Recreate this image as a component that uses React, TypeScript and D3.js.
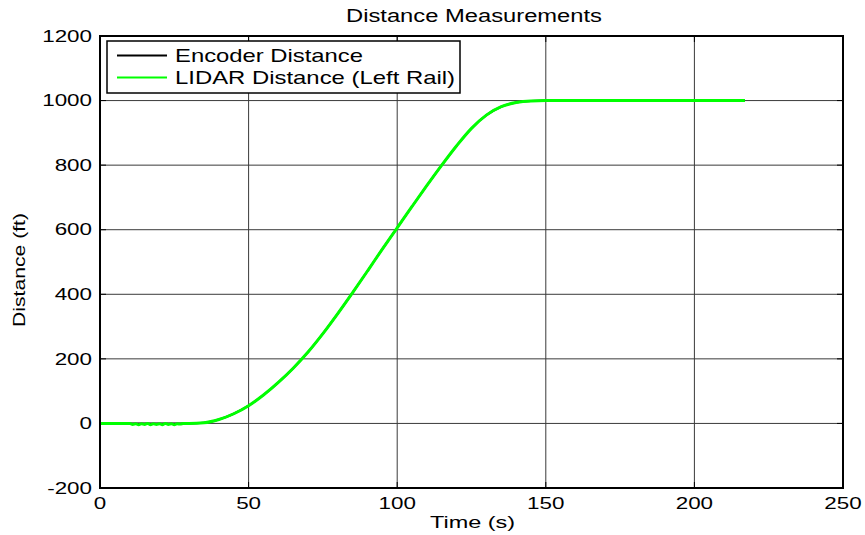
import React from "react";
import * as d3 from "d3";

// Time stamps (s) and encoder distance (ft)
const timeS = [0, 5, 10, 15, 20, 25, 30, 35, 40, 45, 50, 55, 60, 65, 70, 75, 80, 85, 90, 95, 100, 105, 110, 115, 120, 125, 130, 135, 140, 145, 150, 155, 160, 170, 180, 190, 200, 210, 217];
const encoderFt = [0, 0, 0, 0, 0, 0, 0, 2, 12, 30, 55, 88, 127, 171, 221, 278, 340, 405, 472, 540, 606, 672, 737, 800, 860, 914, 955, 981, 994, 999, 1000, 1000, 1000, 1000, 1000, 1000, 1000, 1000, 1000];

// LIDAR samples differ slightly from the encoder during the slow start
const lidarNoiseTime = [10, 11, 12, 13, 14, 15, 16, 17, 18, 19, 20, 21, 22, 23, 24, 25, 26, 27, 28];
const lidarNoiseFt = [0, -3, -1, -4, -1, -3, 0, -4, -1, -3, -1, -4, 0, -3, -1, -4, -1, -2, 0];

const xTicks = [0, 50, 100, 150, 200, 250];
const yTicks = [-200, 0, 200, 400, 600, 800, 1000, 1200];

const W = 865;
const H = 535;
const left = 100;
const right = 843;
const top = 36;
const bottom = 488;
const FONT = "'Liberation Sans', Arial, Helvetica, sans-serif";

export default function App() {
  const x = d3.scaleLinear().domain([0, 250]).range([left, right]);
  const y = d3.scaleLinear().domain([-200, 1200]).range([bottom, top]);

  const encoder = timeS.map((t, i) => [t, encoderFt[i]] as [number, number]);
  const lidar: [number, number][] = [
    ...encoder.filter((d) => d[0] < 10),
    ...lidarNoiseTime.map((t, i) => [t, lidarNoiseFt[i]] as [number, number]),
    ...encoder.filter((d) => d[0] > 28),
  ];

  const line = d3
    .line<[number, number]>()
    .x((d) => x(d[0]))
    .y((d) => y(d[1]))
    .curve(d3.curveMonotoneX);

  const tickLen = 6;

  return (
    <svg
      width={W}
      height={H}
      style={{ position: "absolute", left: 0, top: 0, background: "#fff" }}
      fontFamily={FONT}
    >
      <rect x={0} y={0} width={W} height={H} fill="#fff" />

      {/* grid */}
      {xTicks.slice(1, -1).map((t) => (
        <line key={"gx" + t} x1={x(t)} x2={x(t)} y1={top} y2={bottom} stroke="#3a3a3a" strokeWidth={1} />
      ))}
      {yTicks.slice(1, -1).map((t) => (
        <line key={"gy" + t} x1={left} x2={right} y1={y(t)} y2={y(t)} stroke="#3a3a3a" strokeWidth={1} />
      ))}

      {/* tick marks on all sides */}
      {xTicks.map((t) => (
        <g key={"tx" + t} stroke="#000" strokeWidth={1}>
          <line x1={x(t)} x2={x(t)} y1={bottom} y2={bottom - tickLen} />
          <line x1={x(t)} x2={x(t)} y1={top} y2={top + tickLen} />
        </g>
      ))}
      {yTicks.map((t) => (
        <g key={"ty" + t} stroke="#000" strokeWidth={1}>
          <line x1={left} x2={left + tickLen} y1={y(t)} y2={y(t)} />
          <line x1={right} x2={right - tickLen} y1={y(t)} y2={y(t)} />
        </g>
      ))}

      {/* data */}
      <path d={line(encoder) ?? ""} fill="none" stroke="#000" strokeWidth={2} />
      <path d={line(lidar) ?? ""} fill="none" stroke="#00ff00" strokeWidth={3} />

      {/* axes box */}
      <rect x={left} y={top} width={right - left} height={bottom - top} fill="none" stroke="#000" strokeWidth={2} />

      {/* tick labels */}
      {xTicks.map((t) => (
        <text
          key={"lx" + t}
          transform={`translate(${x(t)},508.5) scale(1.4,1)`}
          textAnchor="middle"
          fontSize={16}
          fill="#000"
        >
          {t}
        </text>
      ))}
      {yTicks.map((t) => (
        <text
          key={"ly" + t}
          transform={`translate(92,${y(t) + 5.7}) scale(1.4,1)`}
          textAnchor="end"
          fontSize={16}
          fill="#000"
        >
          {t}
        </text>
      ))}

      {/* titles */}
      <text x={474} y={22} textAnchor="middle" fontSize={17.5} textLength={256} lengthAdjust="spacingAndGlyphs" fill="#000">
        Distance Measurements
      </text>
      <text x={472.5} y={528} textAnchor="middle" fontSize={17} textLength={85} lengthAdjust="spacingAndGlyphs" fill="#000">
        Time (s)
      </text>
      <text
        transform="translate(25,270) rotate(-90)"
        textAnchor="middle"
        fontSize={17}
        textLength={114}
        lengthAdjust="spacingAndGlyphs"
        fill="#000"
      >
        Distance (ft)
      </text>

      {/* legend */}
      <rect x={107} y={41} width={353} height={52} fill="#fff" stroke="#000" strokeWidth={1.5} />
      <line x1={117} x2={167} y1={55.5} y2={55.5} stroke="#000" strokeWidth={2} />
      <line x1={117} x2={167} y1={77.5} y2={77.5} stroke="#00ff00" strokeWidth={2} />
      <text x={175} y={61.5} fontSize={17.7} textLength={188} lengthAdjust="spacingAndGlyphs" fill="#000">
        Encoder Distance
      </text>
      <text x={175} y={83.5} fontSize={17.7} textLength={280} lengthAdjust="spacingAndGlyphs" fill="#000">
        LIDAR Distance (Left Rail)
      </text>
    </svg>
  );
}
